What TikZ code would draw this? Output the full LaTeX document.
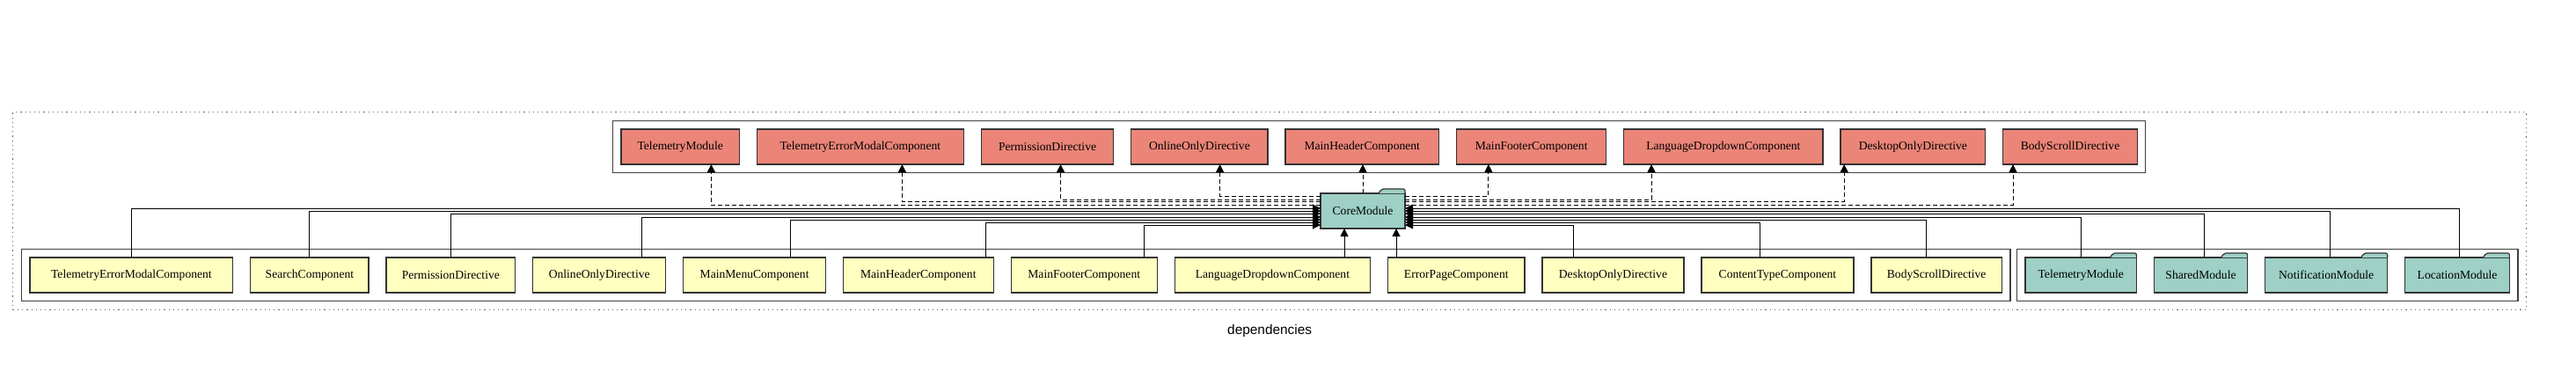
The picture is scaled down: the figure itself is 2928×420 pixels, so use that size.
\documentclass[tikz,border=0pt]{standalone}
\usepackage{fontspec}
\setmainfont{Liberation Serif}
\newfontfamily\depfont{Liberation Sans}
\usepackage{calc}
\usetikzlibrary{arrows.meta,positioning,fit}

\definecolor{exfill}{RGB}{235,133,120}
\definecolor{dcfill}{RGB}{255,255,191}
\definecolor{imfill}{RGB}{158,208,198}

% label as wide as the 8pt text, set smaller
\newcommand\lbl[1]{\makebox[\widthof{\fontsize{8}{9}\selectfont #1}]{#1}}

\tikzset{
  depnode/.style = {draw=black!80, line width=0.6pt, minimum height=20pt,
                    inner ysep=0pt, outer sep=0pt, font=\fontsize{6.8}{8}\selectfont},
  exnode/.style  = {depnode, fill=exfill, inner xsep=5pt},
  dcnode/.style  = {depnode, fill=dcfill, inner xsep=4pt},
  imnode/.style  = {depnode, fill=imfill, inner xsep=3pt},
  tab/.style     = {fill=imfill, draw=black!80, line width=0.6pt, rounded corners=1pt},
  cluster/.style = {draw=black!75, line width=0.7pt, inner sep=4.75pt},
  deparea/.style = {draw=black!60, line width=0.6pt, dash pattern=on 0.6pt off 2pt, inner sep=4.5pt},
  imp/.style     = {line width=0.5pt, -{Triangle[length=4.5pt,width=4.5pt]}},
  exp/.style     = {imp, dash pattern=on 2.5pt off 1.5pt}
}

\begin{document}
\begin{tikzpicture}[x=0.5pt, y=-0.5pt,
node distance = 10pt
                        ]
\useasboundingbox (0,0) rectangle (2928,420);

%
\node (ex1) [exnode, anchor=west] at (706,167) {\lbl{TelemetryModule}};
\foreach \t [count=\i from 2] in {TelemetryErrorModalComponent,PermissionDirective,OnlineOnlyDirective,MainHeaderComponent,MainFooterComponent,LanguageDropdownComponent,DesktopOnlyDirective,BodyScrollDirective}
{
\pgfmathtruncatemacro\j{\i-1}
\node (ex\i) [exnode, right=of ex\j] {\lbl{\t}};
}

\node (dc1) [dcnode, anchor=west] at (34,313) {\lbl{TelemetryErrorModalComponent}};
\foreach \t [count=\i from 2] in {SearchComponent,PermissionDirective,OnlineOnlyDirective,MainMenuComponent,MainHeaderComponent,MainFooterComponent,LanguageDropdownComponent,ErrorPageComponent,DesktopOnlyDirective,ContentTypeComponent,BodyScrollDirective}
{
\pgfmathtruncatemacro\j{\i-1}
\node (dc\i) [dcnode, right=of dc\j] {\lbl{\t}};
}

\node (im1) [imnode, anchor=west] at (2302,313) {\lbl{TelemetryModule}};
\foreach \t [count=\i from 2] in {SharedModule,NotificationModule,LocationModule}
{
\pgfmathtruncatemacro\j{\i-1}
\node (im\i) [imnode, right=of im\j] {\lbl{\t}};
}

\node (core) [imnode, inner xsep=0pt, minimum width=48pt] at (1549,240) {CoreModule};

% folder tabs
\foreach \n in {core,im1,im2,im3,im4}
\filldraw[tab] ([xshift=-15pt]\n.north east) -- ++(1.7pt,2.5pt) -- ([yshift=2.5pt]\n.north east) -- (\n.north east);

%
\node (excl) [cluster, fit=(ex1)(ex9)] {};
\node (dccl) [cluster, fit=(dc1)(dc12)] {};
\node (imcl) [cluster, fit=(im1)(im4)] {};
\node (deps) [deparea, fit=(excl)(dccl)(imcl)] {};
\node (deplbl) [below=8pt of deps, inner sep=0pt, font=\depfont\fontsize{7.7}{9}\selectfont] {dependencies};

%
\foreach \n/\dx/\dy in {dc1/0/1.5,dc2/0/0,dc3/0/-1.5,dc4/24.3/-3.5,dc5/20.6/-5,dc6/38.5/-6.5,dc7/33.9/-8}
\draw[imp] ([xshift=\dx pt]\n.north) |- ([yshift=\dy pt]core.west);

\foreach \n/\dx/\dy in {dc10/-22.6/-8,dc11/-9.9/-6.5,dc12/-6/-5,im1/0/-3.5,im2/2/-1.5,im3/2.3/0,im4/1.3/1.5}
\draw[imp] ([xshift=\dx pt]\n.north) |- ([yshift=\dy pt]core.east);

\coordinate (cs1) at ([xshift=-10.5pt]core.south);
\coordinate (cs2) at ([xshift=19pt]core.south);
\draw[imp] (dc8.north -| cs1) -- (cs1);
\draw[imp] (dc9.north -| cs2) -- (cs2);

%
\foreach \n/\dx/\dy in {ex1/17.6/3.5,ex2/23.8/5.5,ex3/7.5/6.5,ex4/11.6/8.5}
\draw[exp] ([yshift=\dy pt]core.west) -| ([xshift=\dx pt]\n.south);

\draw[exp] (core.north) -- (core.north |- ex5.south);

\foreach \n/\dx/\dy in {ex6/-24.4/8.5,ex7/-40.9/6.5,ex8/-39.1/5.5,ex9/-32.5/3.5}
\draw[exp] ([yshift=\dy pt]core.east) -| ([xshift=\dx pt]\n.south);
\end{tikzpicture}
\end{document}
